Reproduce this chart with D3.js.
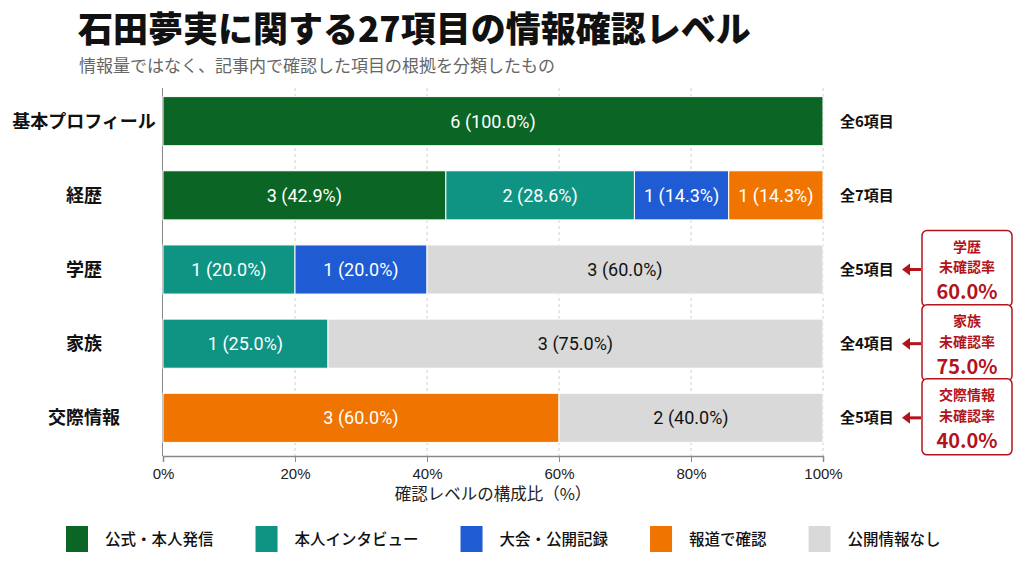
<!DOCTYPE html>
<html>
<head>
<meta charset="utf-8">
<script src="https://cdn.jsdelivr.net/npm/d3@7"></script>
<style>
  body { margin: 0; background: #fff; }
  svg { display: block; font-family: Roboto, "Noto Sans CJK JP", sans-serif; }
</style>
</head>
<body>
<script>
const categories = ["基本プロフィール", "経歴", "学歴", "家族", "交際情報"];
const seriesNames = ["公式・本人発信", "本人インタビュー", "大会・公開記録", "報道で確認", "公開情報なし"];
const seriesColors = ["#0b6626", "#0f9484", "#1f5bd3", "#f07500", "#d9d9d9"];
// counts per category, in series order
const official = [6, 3, 0, 0, 0];
const interview = [0, 2, 1, 1, 0];
const records = [0, 1, 1, 0, 0];
const press = [0, 1, 0, 0, 3];
const noInfo = [0, 0, 3, 3, 2];
const tickLabels = ["0%", "20%", "40%", "60%", "80%", "100%"];

const W = 1024, H = 576;
const svg = d3.select("body").append("svg").attr("width", W).attr("height", H);

const seriesValues = [official, interview, records, press, noInfo];
const rows = categories.map((c, i) => {
  const vals = seriesValues.map(s => s[i]);
  const total = d3.sum(vals);
  let acc = 0;
  const segs = vals.map((v, k) => {
    const s = { k, v, p: v / total, x0: acc / total };
    acc += v;
    return s;
  }).filter(s => s.v > 0);
  return { cat: c, total, segs, none: vals[4] / total };
});

const x = d3.scaleLinear().domain([0, 1]).range([163, 823]);
const y = d3.scaleBand().domain(categories).range([84, 455]).paddingInner(0.338).paddingOuter(0.17);

// title
svg.append("text").attr("x", 78).attr("y", 42)
  .style("font-family", "'Noto Sans CJK JP'").style("font-weight", 900)
  .style("font-size", "35px").attr("fill", "#111")
  .text("石田夢実に関する27項目の情報確認レベル");
svg.append("text").attr("x", 79).attr("y", 72)
  .style("font-family", "'Noto Sans CJK JP'").style("font-size", "17px").attr("fill", "#666")
  .text("情報量ではなく、記事内で確認した項目の根拠を分類したもの");

// grid
svg.append("g").selectAll("line").data([0.2, 0.4, 0.6, 0.8, 1]).enter().append("line")
  .attr("x1", d => x(d)).attr("x2", d => x(d)).attr("y1", 88).attr("y2", 456)
  .attr("stroke", "#cfcfcf").attr("stroke-dasharray", "3,3");

// x axis
const xAxis = svg.append("g").attr("transform", "translate(0,456)")
  .call(d3.axisBottom(x).tickValues([0, 0.2, 0.4, 0.6, 0.8, 1]).tickFormat((d, i) => tickLabels[i]).tickSize(6).tickPadding(6));
xAxis.select(".domain").attr("stroke", "#888").attr("stroke-width", 1.5);
xAxis.selectAll(".tick line").attr("stroke", "#888");
xAxis.selectAll("text").style("font-size", "15px").attr("fill", "#222");
svg.append("text").attr("x", 493).attr("y", 500).attr("text-anchor", "middle")
  .style("font-family", "'Noto Sans CJK JP'").style("font-size", "16.5px").attr("fill", "#222")
  .text("確認レベルの構成比（%）");

// y axis line
svg.append("line").attr("x1", 162.5).attr("x2", 162.5).attr("y1", 88).attr("y2", 456)
  .attr("stroke", "#888").attr("stroke-width", 1);

// bars
const rowG = svg.append("g").selectAll("g").data(rows).enter().append("g")
  .attr("transform", d => `translate(0,${y(d.cat)})`);

rowG.selectAll("rect").data(d => d.segs).enter().append("rect")
  .attr("x", d => x(d.x0)).attr("width", d => x(d.p) - x(0))
  .attr("height", y.bandwidth()).attr("fill", d => seriesColors[d.k])
  .attr("stroke", "#fff").attr("stroke-width", 1);

rowG.selectAll("text.val").data(d => d.segs).enter().append("text")
  .attr("class", "val")
  .attr("x", d => x(d.x0 + d.p / 2)).attr("y", y.bandwidth() / 2).attr("dy", "0.36em")
  .attr("text-anchor", "middle").style("font-size", "18px")
  .attr("fill", d => d.k === 4 ? "#111" : "#fff")
  .text(d => `${d.v} (${(d.p * 100).toFixed(1)}%)`);

// category labels
rowG.append("text").attr("x", 84).attr("y", y.bandwidth() / 2).attr("dy", "0.36em")
  .attr("text-anchor", "middle").style("font-family", "'Noto Sans CJK JP'")
  .style("font-weight", 700).style("font-size", "18px").attr("fill", "#111")
  .text(d => d.cat);

// totals
rowG.append("text").attr("x", 840).attr("y", y.bandwidth() / 2).attr("dy", "0.36em")
  .style("font-family", "'Noto Sans CJK JP'").style("font-weight", 700)
  .style("font-size", "15px").attr("fill", "#111")
  .text(d => `全${d.total}項目`);

// callouts for rows with unconfirmed items
const red = "#b3141c";
const cy = y.bandwidth() / 2;
const callouts = rowG.filter(d => d.none > 0 && d.total > 0);
callouts.append("line").attr("x1", 921).attr("x2", 908)
  .attr("y1", cy).attr("y2", cy)
  .attr("stroke", red).attr("stroke-width", 3);
callouts.append("path")
  .attr("d", `M902,${cy} L910,${cy - 6} L910,${cy + 6} Z`)
  .attr("fill", red);
callouts.append("rect").attr("x", 922).attr("y", cy - 39)
  .attr("width", 90).attr("height", 76).attr("rx", 5)
  .attr("fill", "#fff").attr("stroke", red).attr("stroke-width", 1.5);
const ct = callouts.append("g").style("font-family", "'Noto Sans CJK JP'").attr("fill", red)
  .attr("text-anchor", "middle");
ct.append("text").attr("x", 967).attr("y", cy - 18)
  .style("font-size", "14px").style("font-weight", 700).text(d => d.cat);
ct.append("text").attr("x", 967).attr("y", cy + 3)
  .style("font-size", "14px").style("font-weight", 700).text("未確認率");
ct.append("text").attr("x", 967).attr("y", cy + 30)
  .style("font-size", "20px").style("font-weight", 700)
  .text(d => `${(d.none * 100).toFixed(1)}%`);

// legend
const leg = svg.append("g").attr("transform", "translate(66,526)");
let lx = 0;
seriesNames.forEach((name, i) => {
  const g = leg.append("g").attr("transform", `translate(${lx},0)`);
  g.append("rect").attr("width", 22).attr("height", 26).attr("fill", seriesColors[i]);
  const t = g.append("text").attr("x", 39).attr("y", 13).attr("dy", "0.36em")
    .style("font-family", "'Noto Sans CJK JP'").style("font-weight", 500)
    .style("font-size", "15.5px").attr("fill", "#111").text(name);
  lx += 39 + t.node().getComputedTextLength() + 42;
});
</script>
</body>
</html>
